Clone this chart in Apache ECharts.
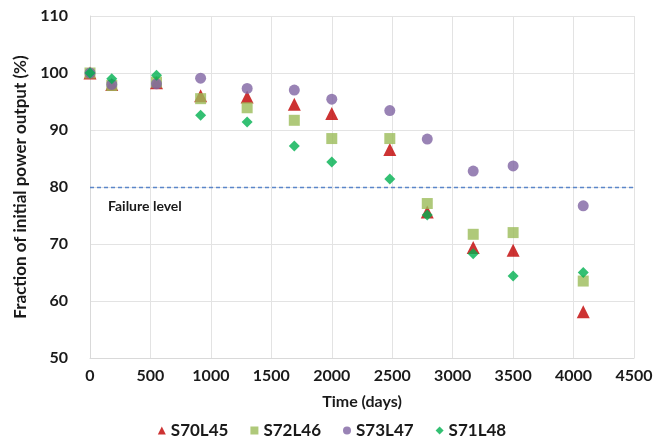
<!DOCTYPE html>
<html>
<head>
<meta charset="utf-8">
<script src="https://cdn.jsdelivr.net/npm/echarts@6/dist/echarts.min.js"></script>
<style>
  html, body { margin: 0; padding: 0; background: #fff; }
  #chart { width: 664px; height: 445px; }
</style>
</head>
<body>
<div id="chart"></div>
<script>
const days = [0, 180, 550, 915, 1300, 1690, 2000, 2480, 2790, 3170, 3500, 4080];
const s70L45 = [100, 98.0, 98.3, 96.0, 95.8, 94.5, 92.9, 86.6, 75.6, 69.4, 68.9, 58.1];
const s72L46 = [100, 97.8, 98.4, 95.5, 93.9, 91.7, 88.5, 88.5, 77.1, 71.7, 72.0, 63.5];
const s73L47 = [100, 98.0, 98.1, 99.1, 97.3, 97.0, 95.4, 93.4, 88.4, 82.8, 83.7, 76.7];
const s71L48 = [100, 99.0, 99.6, 92.6, 91.4, 87.2, 84.4, 81.4, 75.1, 68.3, 64.4, 65.0];
const failureLevel = 80;

const font = "Lato";
const ink = "#1a1a1a";
const pairs = vals => days.map((d, i) => [d, vals[i]]);

const chart = echarts.init(document.getElementById("chart"));
chart.setOption({
  animation: false,
  textStyle: { fontFamily: font },
  grid: { left: 90, right: 30, top: 16, bottom: 87 },
  legend: {
    bottom: 1,
    left: "center",
    itemWidth: 8,
    itemHeight: 8,
    itemGap: 22,
    textStyle: { fontSize: 17, fontWeight: "bold", color: ink },
    data: [
      { name: "S70L45", icon: "triangle" },
      { name: "S72L46", icon: "rect" },
      { name: "S73L47", icon: "circle" },
      { name: "S71L48", icon: "diamond" }
    ]
  },
  xAxis: {
    type: "value",
    min: 0,
    max: 4500,
    interval: 500,
    name: "Time (days)",
    nameLocation: "middle",
    nameGap: 36,
    nameTextStyle: { fontSize: 16, fontWeight: "bold", color: ink },
    axisLine: { show: true, lineStyle: { color: "#d9d9d9" } },
    axisTick: { show: false },
    axisLabel: { fontSize: 16, fontWeight: "bold", color: ink, margin: 10, formatter: v => String(v) },
    splitLine: { show: true, lineStyle: { color: "#e3e3e3" } }
  },
  yAxis: {
    type: "value",
    min: 50,
    max: 110,
    interval: 10,
    name: "Fraction of initial power output (%)",
    nameLocation: "middle",
    nameGap: 60,
    nameTextStyle: { fontSize: 17, fontWeight: "bold", color: ink },
    axisLine: { show: true, lineStyle: { color: "#d9d9d9" } },
    axisTick: { show: false },
    axisLabel: { fontSize: 16, fontWeight: "bold", color: ink, margin: 22 },
    splitLine: { show: true, lineStyle: { color: "#e3e3e3" } }
  },
  series: [
    {
      name: "S70L45",
      type: "scatter",
      symbol: "triangle",
      symbolSize: 13,
      itemStyle: { color: "#c00000" },
      data: pairs(s70L45),
      markLine: {
        silent: true,
        symbol: "none",
        lineStyle: { color: "#5b86c9", type: [4, 3], width: 1.3 },
        label: {
          show: true,
          position: "insideStartBottom",
          formatter: "Failure level",
          fontSize: 14,
          fontWeight: "bold",
          color: ink,
          distance: [18, 12]
        },
        data: [{ yAxis: failureLevel }]
      }
    },
    {
      name: "S72L46",
      type: "scatter",
      symbol: "rect",
      symbolSize: 11,
      itemStyle: { color: "#9bbb59" },
      data: pairs(s72L46)
    },
    {
      name: "S73L47",
      type: "scatter",
      symbol: "circle",
      symbolSize: 11,
      itemStyle: { color: "#8064a2" },
      data: pairs(s73L47)
    },
    {
      name: "S71L48",
      type: "scatter",
      symbol: "diamond",
      symbolSize: 11,
      itemStyle: { color: "#00b050" },
      data: pairs(s71L48)
    }
  ]
});
</script>
</body>
</html>
